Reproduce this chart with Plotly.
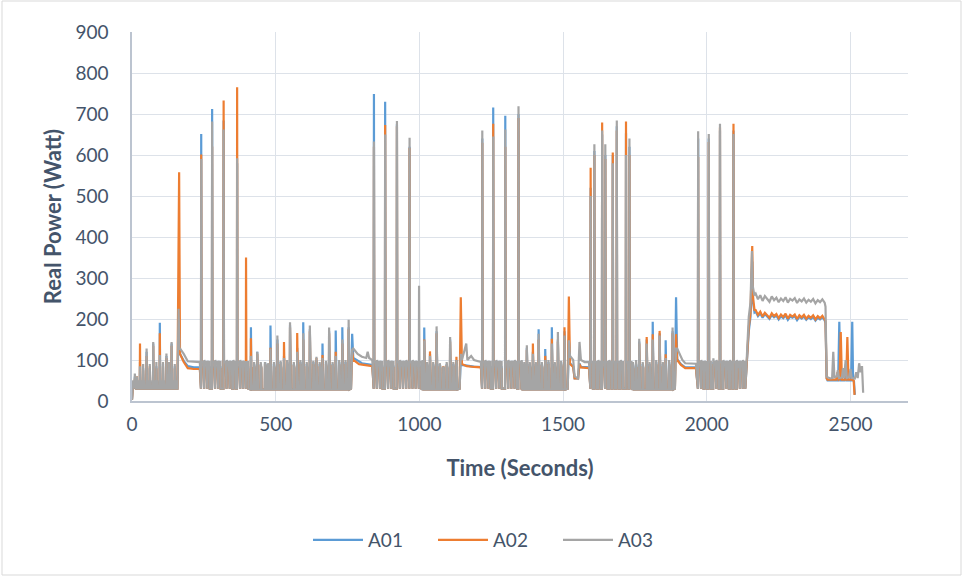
import plotly.graph_objects as go

# ---------------- data ----------------
series_names = ["A01", "A02", "A03"]

# regions of the repeating on/off cycles
reg_start  = [0,   238, 410, 838,  1000, 1216, 1350, 1592, 1738, 1966]
reg_end    = [157, 410, 760, 1000, 1140, 1350, 1516, 1738, 1889, 2136]
reg_dur    = [4,   8,   3,   8,    3,    8,    3,    8,    3,    8]      # seconds "on"
reg_low    = [30,  30,  28,  30,   28,   30,   28,   30,   28,   30]
reg_on_A01 = [45,  82,  80,  84,   80,   82,   80,   82,   80,   82]
reg_on_A02 = [42,  78,  80,  80,   80,   78,   80,   78,   80,   78]
reg_on_A03 = [48,  95,  82,  95,   82,   95,   82,   95,   82,   95]

# cycle start times (s) and the peak reached at each start (W)
cyc_t = [
    2, 9, 16, 27, 38, 50, 61, 73, 84, 96, 107, 119, 128, 137, 148,
    240, 251, 262, 278, 289, 300, 318, 329, 340, 352, 365, 376, 386, 396,
    413, 424, 435, 447, 462, 472, 481, 493, 505, 516, 528, 539, 549, 562, 574, 585,
    595, 607, 618, 630, 641, 652, 662, 674, 685, 697, 708, 720, 731, 742, 753,
    841, 852, 863, 880, 891, 902, 921, 932, 943, 954, 965, 976, 987, 998,
    1010, 1016, 1026, 1036, 1047, 1059, 1070, 1082, 1094, 1106, 1117, 1128,
    1218, 1229, 1240, 1256, 1267, 1278, 1298, 1309, 1320, 1331, 1344,
    1355, 1364, 1373, 1383, 1394, 1404, 1414, 1425, 1437, 1448, 1460, 1470, 1481, 1492, 1504,
    1595, 1608, 1622, 1635, 1646, 1660, 1672, 1686, 1700, 1718, 1730,
    1742, 1753, 1764, 1776, 1790, 1800, 1811, 1823, 1835, 1846, 1856, 1868, 1880,
    1969, 1980, 1992, 2006, 2022, 2033, 2045, 2057, 2068, 2080, 2092, 2104, 2115, 2125,
]
pk_A01 = [
    45, 60, 55, 95, 80, 120, 80, 140, 85, 191, 90, 110, 85, 140, 85,
    651, 88, 90, 712, 88, 90, 684, 88, 90, 88, 580, 88, 90, 90,
    180, 90, 120, 90, 95, 90, 184, 90, 150, 95, 110, 95, 185, 90, 130, 95,
    192, 90, 175, 95, 100, 90, 140, 95, 170, 90, 172, 95, 180, 95, 180,
    749, 88, 90, 730, 88, 90, 675, 88, 90, 88, 620, 88, 90, 90,
    95, 179, 90, 115, 90, 170, 90, 80, 90, 150, 90, 100,
    640, 88, 90, 716, 88, 90, 696, 88, 90, 88, 700,
    95, 90, 130, 90, 120, 90, 175, 90, 127, 95, 180, 90, 150, 95, 170,
    520, 610, 88, 650, 600, 88, 600, 670, 88, 653, 620,
    90, 90, 145, 90, 150, 90, 193, 95, 165, 90, 148, 95, 170,
    640, 88, 90, 640, 95, 88, 660, 88, 90, 88, 660, 88, 90, 88,
]
pk_A02 = [
    42, 55, 60, 140, 75, 110, 85, 135, 80, 165, 85, 105, 90, 135, 80,
    601, 84, 84, 621, 84, 84, 733, 84, 84, 84, 765, 84, 84, 350,
    153, 85, 115, 88, 90, 85, 130, 85, 140, 90, 144, 90, 180, 88, 166, 90,
    150, 85, 170, 90, 105, 85, 112, 90, 165, 88, 120, 90, 140, 90, 175,
    620, 84, 84, 673, 84, 84, 670, 84, 84, 84, 617, 84, 84, 85,
    90, 150, 85, 121, 85, 165, 85, 85, 88, 145, 85, 108,
    630, 84, 84, 676, 84, 84, 620, 84, 84, 84, 690,
    90, 88, 125, 85, 140, 85, 150, 88, 110, 90, 152, 85, 145, 90, 180,
    569, 600, 84, 679, 590, 84, 606, 660, 84, 682, 600,
    70, 80, 140, 85, 156, 85, 163, 90, 171, 85, 114, 90, 165,
    595, 84, 84, 632, 90, 84, 667, 84, 84, 84, 676, 84, 84, 84,
]
pk_A03 = [
    48, 67, 60, 85, 90, 128, 90, 144, 95, 112, 95, 116, 95, 144, 90,
    590, 100, 98, 682, 100, 98, 662, 100, 98, 100, 592, 100, 98, 95,
    110, 95, 120, 95, 95, 92, 128, 95, 160, 98, 105, 100, 192, 95, 120, 100,
    165, 95, 184, 98, 108, 95, 105, 98, 179, 95, 110, 100, 150, 100, 198,
    633, 100, 98, 650, 100, 98, 683, 100, 98, 100, 642, 100, 98, 281,
    100, 148, 95, 110, 95, 182, 92, 83, 95, 156, 95, 100,
    660, 100, 98, 645, 100, 98, 662, 100, 98, 100, 719,
    100, 95, 136, 95, 115, 95, 164, 95, 100, 100, 140, 95, 168, 98, 160,
    500, 626, 100, 660, 626, 100, 580, 684, 100, 600, 640,
    95, 100, 152, 95, 140, 95, 150, 100, 160, 95, 105, 100, 179,
    658, 100, 98, 651, 104, 100, 676, 100, 98, 100, 651, 100, 98, 100,
]

# plateau / irregular stretches, listed point by point (time s, power W)
A01_pt = [0,
          158, 163, 167, 180, 194, 215, 236,
          762, 766, 770, 800, 836,
          1140, 1144, 1148, 1165, 1190, 1214,
          1516, 1520, 1524, 1535, 1540, 1552, 1557, 1562, 1590,
          1889, 1893, 1897, 1910, 1925, 1962,
          2132, 2140, 2146, 2152, 2158, 2161, 2166,
          2170, 2178, 2186, 2194, 2202, 2210, 2218, 2226, 2234, 2242, 2250, 2258, 2266, 2274, 2282, 2290,
          2298, 2306, 2314, 2322, 2330, 2338, 2346, 2354, 2362, 2370, 2378, 2386, 2394, 2402, 2410,
          2413, 2417, 2420, 2457, 2461, 2465, 2480, 2484, 2488, 2502, 2506, 2509, 2512, 2515]
A01_pv = [3,
          30, 220, 115, 98, 85, 82, 82,
          30, 164, 105, 92, 88,
          30, 110, 88, 86, 84, 83,
          30, 150, 92, 84, 55, 55, 92, 83, 82,
          30, 253, 102, 90, 82, 82,
          85, 110, 170, 205, 340, 240, 216,
          218, 207, 214, 203, 212, 205, 200, 210, 204, 208, 199, 207, 202, 209, 198, 206,
          203, 207, 197, 205, 201, 206, 198, 204, 200, 205, 196, 203, 199, 204, 197,
          190, 55, 50, 50, 193, 50, 50, 90, 50, 50, 193, 50, 48, 15]

A02_pt = [0,
          158, 164, 167, 180, 194, 215, 236,
          762, 766, 770, 790, 836,
          1140, 1144, 1148, 1165, 1190, 1214,
          1516, 1520, 1524, 1535, 1540, 1552, 1557, 1562, 1590,
          1889, 1893, 1897, 1910, 1925, 1962,
          2132, 2140, 2146, 2152, 2158, 2161, 2166,
          2170, 2178, 2186, 2194, 2202, 2210, 2218, 2226, 2234, 2242, 2250, 2258, 2266, 2274, 2282, 2290,
          2298, 2306, 2314, 2322, 2330, 2338, 2346, 2354, 2362, 2370, 2378, 2386, 2394, 2402, 2410,
          2413, 2417, 2420, 2450, 2455, 2459, 2462, 2466, 2470, 2485, 2489, 2493, 2505, 2511, 2514]
A02_pv = [3,
          30, 558, 115, 95, 80, 78, 78,
          30, 120, 100, 90, 85,
          30, 253, 90, 85, 83, 82,
          30, 255, 90, 83, 55, 55, 90, 82, 80,
          30, 163, 100, 88, 80, 80,
          82, 115, 180, 215, 378, 250, 222,
          222, 210, 218, 206, 215, 209, 203, 214, 207, 212, 202, 211, 205, 213, 201, 210,
          206, 211, 200, 209, 204, 210, 201, 208, 203, 209, 199, 207, 202, 208, 200,
          195, 55, 52, 52, 70, 52, 53, 168, 52, 52, 156, 52, 52, 50, 15]

A03_pt = [0,
          158, 162, 165, 170, 180, 194, 210, 225, 236,
          762, 766, 770, 785, 800, 815, 820, 825, 836,
          1140, 1144, 1148, 1163, 1167, 1180, 1190, 1214,
          1516, 1520, 1524, 1535, 1540, 1552, 1557, 1562, 1575, 1590,
          1889, 1893, 1897, 1905, 1915, 1925, 1962,
          2132, 2140, 2146, 2152, 2157, 2160, 2165,
          2170, 2178, 2186, 2194, 2202, 2210, 2218, 2226, 2234, 2242, 2250, 2258, 2266, 2274, 2282, 2290,
          2298, 2306, 2314, 2322, 2330, 2338, 2346, 2354, 2362, 2370, 2378, 2386, 2394, 2402, 2410,
          2413, 2417, 2420, 2430, 2436, 2440, 2444, 2452, 2456, 2460, 2470, 2474, 2478, 2483, 2487,
          2495, 2500, 2504, 2515, 2520, 2525, 2530, 2535, 2540, 2544]
A03_pv = [3,
          30, 225, 130, 125, 115, 97, 96, 94, 95,
          30, 125, 128, 115, 108, 105, 120, 105, 100,
          30, 115, 100, 140, 100, 110, 100, 95,
          30, 148, 110, 100, 60, 55, 144, 100, 95, 95,
          30, 128, 128, 115, 100, 92, 91,
          95, 140, 205, 240, 366, 280, 258,
          262, 248, 258, 244, 256, 250, 242, 255, 246, 252, 241, 250, 244, 253, 240, 249,
          245, 251, 239, 248, 243, 250, 240, 247, 242, 249, 238, 246, 241, 248, 240,
          230, 60, 58, 55, 56, 120, 58, 60, 75, 56, 57, 80, 56, 100, 56,
          58, 78, 56, 55, 70, 56, 92, 70, 85, 20]

x_ticks = [0, 500, 1000, 1500, 2000, 2500]
y_ticks = [0, 100, 200, 300, 400, 500, 600, 700, 800, 900]

colors = {"A01": "#5B9BD5", "A02": "#ED7D31", "A03": "#A5A5A5"}


def region_of(t):
    for i, (s, e) in enumerate(zip(reg_start, reg_end)):
        if s <= t <= e:
            return i
    return None


def build(peaks, on_levels, pt, pv):
    verts = list(zip(pt, pv))
    for t, p in zip(cyc_t, peaks):
        r = region_of(t)
        low, on, d = reg_low[r], on_levels[r], reg_dur[r]
        verts += [(t, low), (t + 0.8, p), (t + 2, on), (t + d, on), (t + d + 0.8, low)]
    verts.sort(key=lambda v: v[0])
    return [v[0] for v in verts], [v[1] for v in verts]


data = {
    "A01": build(pk_A01, reg_on_A01, A01_pt, A01_pv),
    "A02": build(pk_A02, reg_on_A02, A02_pt, A02_pv),
    "A03": build(pk_A03, reg_on_A03, A03_pt, A03_pv),
}

fig = go.Figure()
for name in series_names:
    xs, ys = data[name]
    fig.add_trace(go.Scatter(x=xs, y=ys, mode="lines", name=name,
                             line=dict(color=colors[name], width=2.2)))

txt = "#44546A"
font_family = "Lato, Open Sans, sans-serif"
W, H = 963, 577
ml, mr, mt, mb = 132, 55, 32, 176
pw, ph = W - ml - mr, H - mt - mb

fig.update_layout(
    width=W, height=H,
    margin=dict(l=ml, r=mr, t=mt, b=mb),
    paper_bgcolor="white", plot_bgcolor="white",
    font=dict(family=font_family, size=19, color=txt),
    showlegend=True,
    legend=dict(orientation="h", x=(308 - ml) / pw, xanchor="left",
                y=(H - mb - 540) / ph, yanchor="middle",
                font=dict(size=19, color=txt), itemwidth=50,
                entrywidth=60, entrywidthmode="pixels",
                bgcolor="rgba(0,0,0,0)"),
    xaxis=dict(range=[0, 2700], tickvals=x_ticks, ticktext=[str(v) for v in x_ticks],
               showgrid=True, gridcolor="#DDE2E9", gridwidth=1.3,
               showline=True, linecolor="#BCC4D0", linewidth=1.5,
               zeroline=False, ticks="", ticklabelstandoff=5,
               tickfont=dict(size=19, color=txt),
               title=dict(text="<b>Time (Seconds)</b>", standoff=27,
                          font=dict(size=22, color=txt))),
    yaxis=dict(range=[0, 900], tickvals=y_ticks, ticktext=[str(v) for v in y_ticks],
               showgrid=True, gridcolor="#DDE2E9", gridwidth=1.3,
               showline=True, linecolor="#BCC4D0", linewidth=1.5,
               zeroline=False, ticks="", ticklabelstandoff=18,
               tickfont=dict(size=19, color=txt),
               title=dict(text="<b>Real Power (Watt)</b>", standoff=8,
                          font=dict(size=22, color=txt))),
)

# chart-area border
fig.add_shape(type="rect", xref="paper", yref="paper",
              x0=(2 - ml) / pw, x1=(961 - ml) / pw,
              y0=(H - mb - 575) / ph, y1=(H - mb - 1) / ph,
              line=dict(color="#D9D9D9", width=1), fillcolor="rgba(0,0,0,0)",
              layer="below")

fig.write_html("out.html",
               config={"displayModeBar": False},
               post_script="document.body.style.margin='0';document.body.style.overflow='hidden';")
